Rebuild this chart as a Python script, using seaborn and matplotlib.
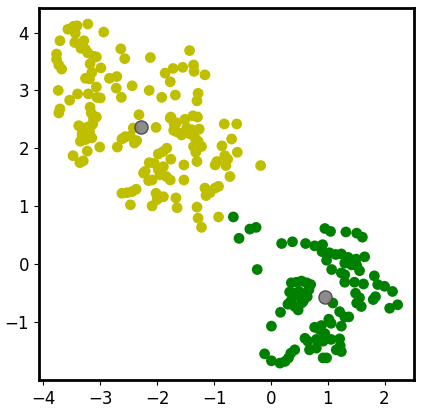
import numpy as np
import pandas as pd
import matplotlib
matplotlib.use("Agg")
import matplotlib.pyplot as plt
import seaborn as sns

# ── Cluster 0 (yellow) ──────────────────────────────────────────────────────
yellow_pts = [
    (-3.57, 4.06), (-3.47, 4.11), (-3.41, 4.12), (-3.44, 3.99), (-3.22, 4.15), (-2.94, 4.01),
    (-3.71, 3.86), (-3.45, 3.83), (-3.29, 3.86), (-3.34, 3.73), (-3.26, 3.71), (-3.22, 3.65),
    (-3.12, 3.59), (-3.07, 3.58), (-3.18, 3.46), (-2.99, 3.39), (-3.15, 3.31), (-3.26, 3.21),
    (-3.19, 3.20), (-3.77, 3.63), (-3.77, 3.54), (-3.73, 3.44), (-3.68, 3.37),
    (-2.64, 3.72), (-2.57, 3.55), (-2.12, 3.57), (-1.86, 3.30), (-1.72, 3.38), (-1.77, 3.15),
    (-2.84, 3.21), (-2.71, 3.24), (-2.72, 3.04), (-2.44, 3.08), (-3.07, 3.06), (-3.74, 3.00),
    (-3.40, 2.94), (-3.21, 2.94), (-3.06, 2.88), (-3.00, 2.87), (-3.54, 2.83), (-2.63, 2.88),
    (-2.14, 3.00), (-1.92, 2.88), (-1.68, 2.92),
    (-3.71, 2.68), (-3.73, 2.61), (-3.18, 2.71), (-3.16, 2.61), (-3.12, 2.52), (-3.07, 2.54),
    (-2.32, 2.58),
    (-3.38, 2.39), (-3.29, 2.35), (-3.15, 2.40), (-3.19, 2.29), (-3.32, 2.26), (-3.13, 2.43),
    (-3.21, 2.37), (-3.32, 2.21), (-3.15, 2.18),
    (-2.42, 2.35), (-2.02, 2.36), (-1.77, 2.52), (-1.70, 2.42), (-2.56, 2.20), (-1.67, 2.29),
    (-3.35, 2.12), (-3.26, 2.15), (-3.23, 1.95), (-3.01, 2.02), (-3.48, 1.87), (-3.36, 1.75),
    (-3.30, 1.78),
    (-2.70, 2.02), (-2.57, 2.19), (-2.47, 2.21), (-2.40, 2.09), (-2.36, 2.13), (-2.62, 2.16),
    (-1.98, 1.90), (-1.90, 1.94), (-1.83, 2.00), (-1.76, 1.81), (-2.14, 1.75), (-2.05, 1.74),
    (-2.21, 1.60), (-2.24, 1.57), (-2.15, 1.44), (-1.98, 1.63), (-1.95, 1.54), (-1.89, 1.68),
    (-1.84, 1.51), (-1.77, 1.45), (-2.09, 1.45),
    (-2.62, 1.22), (-2.53, 1.23), (-2.44, 1.25), (-2.37, 1.29), (-2.47, 1.02), (-2.02, 1.22),
    (-2.00, 1.11), (-2.09, 1.00), (-1.89, 1.16), (-1.67, 1.14), (-1.65, 0.97),
    (-1.43, 3.69), (-1.55, 3.40), (-1.36, 3.44), (-1.35, 3.33), (-1.16, 3.27), (-1.28, 2.95),
    (-1.30, 2.82),
    (-1.76, 2.54), (-1.66, 2.44), (-1.51, 2.50), (-1.37, 2.56), (-1.29, 2.54), (-1.60, 2.26),
    (-1.48, 2.35), (-1.39, 2.32), (-1.26, 2.33), (-1.71, 2.31), (-1.57, 2.23), (-1.43, 2.25),
    (-1.33, 2.17), (-1.28, 2.12), (-1.22, 2.03), (-1.36, 2.03), (-1.32, 1.93), (-1.30, 1.77),
    (-1.53, 1.71), (-1.53, 1.45),
    (-0.82, 2.42), (-0.60, 2.42), (-0.69, 2.16), (-0.86, 2.04), (-0.59, 1.93), (-0.81, 1.87),
    (-0.76, 1.81), (-0.95, 1.77), (-0.98, 1.71), (-0.79, 1.70), (-0.18, 1.70), (-0.72, 1.51),
    (-1.16, 1.31), (-1.07, 1.23), (-0.98, 1.31), (-0.92, 1.34), (-1.14, 1.18), (-1.30, 0.98),
    (-1.28, 0.79), (-1.22, 0.63), (-0.92, 0.81),
]

# ── Cluster 1 (green) ───────────────────────────────────────────────────────
green_pts = [
    (-0.66, 0.81), (-0.37, 0.60), (-0.26, 0.63), (-0.56, 0.44), (-0.24, -0.10),
    (0.95, 0.61), (1.05, 0.56), (1.32, 0.55), (1.51, 0.53), (1.61, 0.46),
    (0.19, 0.35), (0.38, 0.38), (0.61, 0.35), (0.77, 0.31), (0.91, 0.33),
    (0.90, 0.21), (1.03, 0.19), (1.14, 0.16), (1.24, 0.17), (1.36, 0.11),
    (1.50, 0.08), (1.65, 0.12), (0.98, 0.06),
    (1.30, 0.01), (1.42, -0.02), (1.51, -0.03), (1.07, -0.10), (1.24, -0.16),
    (1.30, -0.19), (1.56, -0.12), (1.30, -0.32), (1.47, -0.32), (1.63, -0.35),
    (1.82, -0.21), (1.88, -0.36), (2.00, -0.39), (2.14, -0.48), (2.23, -0.71),
    (2.09, -0.77), (1.49, -0.51), (1.56, -0.59), (1.51, -0.68), (1.59, -0.74),
    (1.80, -0.62), (1.84, -0.57),
    (0.36, -0.33), (0.45, -0.32), (0.54, -0.30), (0.63, -0.33), (0.70, -0.36),
    (0.33, -0.49), (0.39, -0.51), (0.50, -0.48), (0.67, -0.45), (0.64, -0.57),
    (0.51, -0.57), (0.57, -0.65), (0.54, -0.68), (0.35, -0.65), (0.30, -0.70),
    (0.42, -0.74), (0.48, -0.80), (0.17, -0.84),
    (1.09, -0.68), (1.21, -0.83), (1.30, -0.92), (1.37, -0.92), (1.02, -0.96),
    (1.06, -1.03), (1.24, -1.08), (0.77, -1.10), (0.86, -1.14), (0.89, -1.07),
    (0.95, -1.21), (0.60, -1.29), (0.65, -1.34), (0.80, -1.31), (0.92, -1.34),
    (1.06, -1.31), (1.21, -1.30), (1.22, -1.42), (1.15, -1.49), (1.24, -1.52),
    (0.68, -1.49), (0.80, -1.46), (0.92, -1.63), (0.98, -1.63),
    (-0.11, -1.56), (0.01, -1.68), (0.16, -1.72), (0.25, -1.69), (0.31, -1.63),
    (0.42, -1.49), (0.35, -1.55), (0.01, -1.08),
]

centroid_x = [-2.28, 0.96]
centroid_y = [2.37, -0.57]

df = pd.concat([
    pd.DataFrame(yellow_pts, columns=["x", "y"]).assign(label="0"),
    pd.DataFrame(green_pts, columns=["x", "y"]).assign(label="1"),
], ignore_index=True)

fig = plt.figure(figsize=(4.23, 4.12), dpi=100)
ax = fig.add_axes([0.092, 0.078, 0.887, 0.903])

sns.scatterplot(data=df, x="x", y="y", hue="label",
                palette={"0": "y", "1": "g"}, s=60, edgecolor="none",
                legend=False, ax=ax)
ax.scatter(centroid_x, centroid_y, s=90, c="gray", edgecolors="#444444",
           linewidths=1, alpha=0.9, zorder=3)

ax.set_xlim(-4.08, 2.52)
ax.set_ylim(-2.01, 4.43)
ax.set_xticks([-4, -3, -2, -1, 0, 1, 2])
ax.set_yticks([-1, 0, 1, 2, 3, 4])
ax.tick_params(labelsize=12)
ax.set_xlabel("")
ax.set_ylabel("")
for sp in ax.spines.values():
    sp.set_linewidth(2)
    sp.set_color("black")

fig.savefig("out.png", dpi=100)
